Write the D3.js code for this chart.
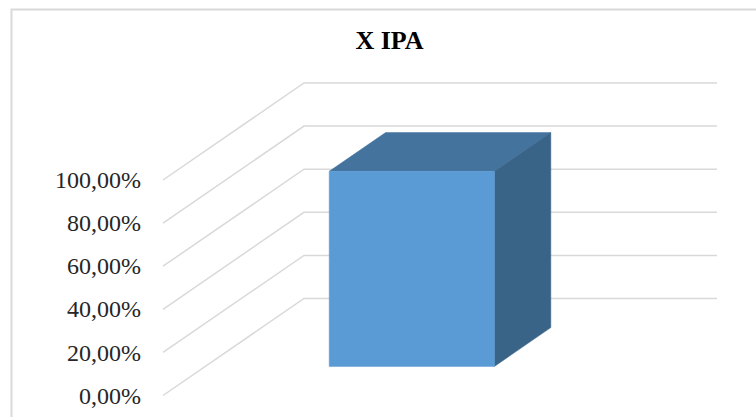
<!DOCTYPE html>
<html>
<head>
<meta charset="utf-8">
<script src="https://cdn.jsdelivr.net/npm/d3@7"></script>
<style>
  body { margin: 0; background: #fff; }
  svg { display: block; }
</style>
</head>
<body>
<div class="chart"></div>
<script>
// data
var categories = ["X IPA"];
var values = [0.905];
var tickValues = [0, 0.2, 0.4, 0.6, 0.8, 1];
var title = "X IPA";

function Bar3D (categories, values) {

  var width = 756, height = 417;

  var svg = d3.select(".chart")
    .append("svg")
      .attr("width", width)
      .attr("height", height);

  // chart frame (runs off the picture on right and bottom)
  svg.append("rect")
    .attr("x", 11.5).attr("y", 9.5)
    .attr("width", 800).attr("height", 500)
    .attr("fill", "#fff")
    .attr("stroke", "#d9d9d9")
    .attr("stroke-width", 2);

  // front plane scales
  var y = d3.scaleLinear().domain([0, 1]).range([395.5, 180]);
  var x = d3.scaleBand()
    .domain(categories)
    .range([163, 576])
    .paddingInner(0.6)
    .paddingOuter(0.3);
  // depth: 0 = front, 1 = back wall
  var depth = {dx: 141, dy: -97};
  function pt(px, py, z) {
    return [px + z * depth.dx, py + z * depth.dy];
  }

  // gridlines: side wall diagonal + back wall
  var grid = svg.append("g");
  tickValues.forEach(function(t) {
    var a = pt(x.range()[0], y(t), 0),
        b = pt(x.range()[0], y(t), 1),
        c = pt(x.range()[1], y(t), 1);
    grid.append("polyline")
      .attr("points", [a, b, c].map(function(p) { return p.join(","); }).join(" "))
      .attr("fill", "none")
      .attr("stroke", "#d9d9d9")
      .attr("stroke-width", 1.5);
  });

  // y axis labels
  var fmt = d3.formatLocale({decimal: ",", thousands: ".", grouping: [3], currency: ["", ""]}).format(".2%");
  var axis = svg.append("g")
    .attr("transform", "translate(163,0)")
    .call(d3.axisLeft(y).tickValues(tickValues).tickSize(0).tickPadding(22).tickFormat(fmt));
  axis.select(".domain").remove();
  axis.selectAll("text")
    .attr("font-family", "'Liberation Serif', 'Times New Roman', serif")
    .attr("font-size", 24)
    .attr("fill", "#262626");

  // bars
  var z0 = 0.3, z1 = 0.7;
  var bars = svg.selectAll(".bar")
    .data(values)
    .enter()
    .append("g");

  function poly(g, pts, fill) {
    g.append("polygon")
      .attr("points", pts.map(function(p) { return p.join(","); }).join(" "))
      .attr("fill", fill)
      .attr("stroke", fill)
      .attr("stroke-width", 0.5)
      .attr("stroke-linejoin", "round");
  }

  bars.each(function(d, i) {
    var g = d3.select(this);
    var xl = x(categories[i]), xr = xl + x.bandwidth();
    var yt = y(d), yb = y(0);
    // top face
    poly(g, [pt(xl, yt, z0), pt(xr, yt, z0), pt(xr, yt, z1), pt(xl, yt, z1)], "#44739e");
    // side face
    poly(g, [pt(xr, yt, z0), pt(xr, yt, z1), pt(xr, yb, z1), pt(xr, yb, z0)], "#396387");
    // front face
    poly(g, [pt(xl, yt, z0), pt(xr, yt, z0), pt(xr, yb, z0), pt(xl, yb, z0)], "#5b9bd5");
  });

  // title
  svg.append("text")
    .attr("x", 389.5)
    .attr("y", 48.5)
    .attr("text-anchor", "middle")
    .attr("font-family", "'Liberation Serif', 'Times New Roman', serif")
    .attr("font-weight", "bold")
    .attr("font-size", 26)
    .attr("fill", "#000")
    .text(title);
}

Bar3D(categories, values);
</script>
</body>
</html>
